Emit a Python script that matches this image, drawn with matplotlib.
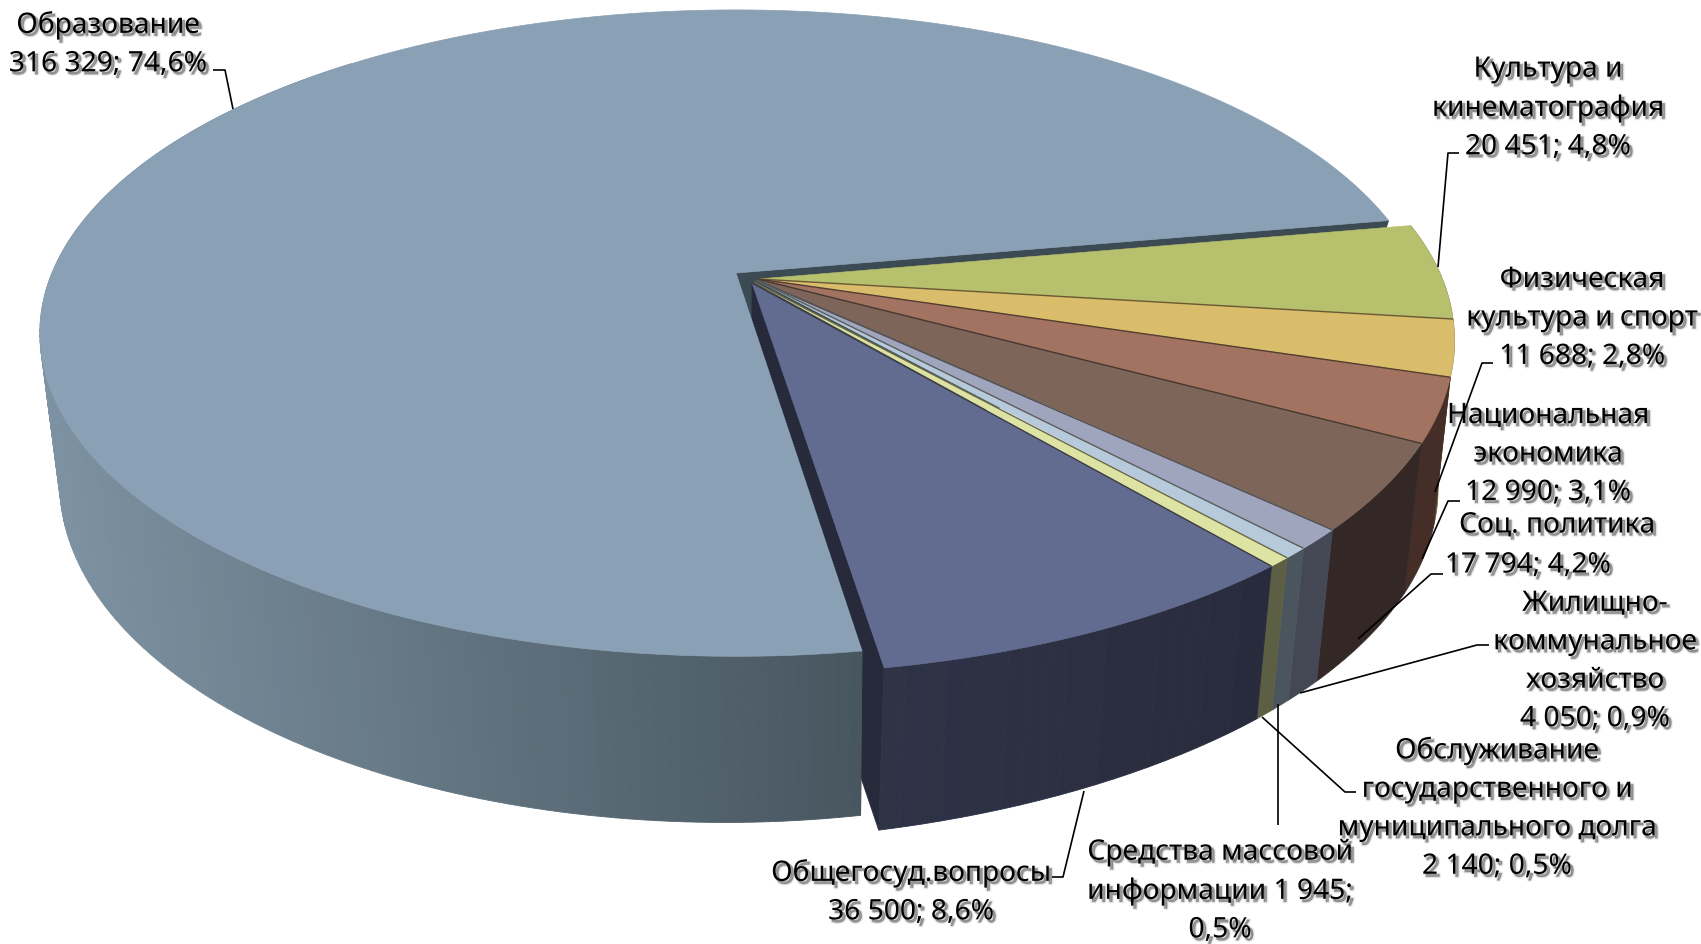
import numpy as np
import matplotlib
matplotlib.use("Agg")
import matplotlib.pyplot as plt
import matplotlib.patheffects as pe
from matplotlib.colors import to_rgb

# ---------- data ----------
categories = ["Образование", "Культура и\nкинематография", "Физическая\nкультура и спорт",
              "Национальная\nэкономика", "Соц. политика", "Жилищно-\nкоммунальное\nхозяйство",
              "Обслуживание\nгосударственного и\nмуниципального долга",
              "Средства массовой\nинформации", "Общегосуд.вопросы"]
values = [316329, 20451, 11688, 12990, 17794, 4050, 2140, 1945, 36500]
percent_labels = ["74,6%", "4,8%", "2,8%", "3,1%", "4,2%", "0,9%", "0,5%", "0,5%", "8,6%"]
value_labels = ["316 329", "20 451", "11 688", "12 990", "17 794", "4 050", "2 140", "1 945", "36 500"]

# ---------- styles ----------
top_colors = ["#8aa0b4", "#b6c06d", "#dabd6a", "#a27360", "#7d6559", "#9fa5bd", "#b7cadb", "#dde3a2", "#626b90"]
side_colors = ["#7d92a2", "#5d6236", "#6b5a30", "#442e27", "#332826", "#434854", "#4a555d", "#5d5f44", "#292d3e"]
apexes = [(0, 0), (22, 6), (22, 6), (22, 6), (21, 6), (20, 7), (20, 7), (18, 9), (16, 10)]
label_pos = [(108, 45), (1548, 109), (1582, 319), (1548, 455), (1557, 526), (1595, 662), (1497, 809), (1220, 892), (911, 893)]
split_value_pos = {4: (1528, 566)}
leaders = [[(213, 71), (225, 71), (233, 110)],
           [(1459, 154), (1448, 154), (1438, 268)],
           [(1493, 364), (1482, 364), (1435, 493)],
           [(1460, 502), (1448, 502), (1422, 560)],
           [(1443, 575), (1431, 575), (1358, 640)],
           [(1489, 646), (1477, 646), (1300, 694)],
           [(1356, 793), (1345, 793), (1262, 718)],
           [(1278, 826), (1278, 705)],
           [(1052, 878), (1063, 878), (1084, 792)]]

# projection of the tilted disc
CX, CY, K = 736.0, 274.0, 0.186
RX, RY = 684.0, 312.0
# lower rim of the main slice
MXC, MCY, MRX, MRY, MDA = 725.0, 421.0, 653.7, 327.6, 1.1
# lower rim of the other slices
RXB, RYB, CYB, SHEAR = 665.0, 307.0, 446.0, -0.030

# shift of the rim of the non-exploded slices, by rim angle
shift_angles = [-82, -51, -44, -28, -17, -7, 11]
shift_x = [22, 26, 27, 25, 23, 22, 22]
shift_y = [17, 13, 11, 8, 6, 5, 5]


def shift(a):
    a = ((np.asarray(a, float) + 180) % 360) - 180
    return np.interp(a, shift_angles, shift_x), np.interp(a, shift_angles, shift_y)


def top(a, moved=True):
    r = np.radians(a)
    w = 1 + K * np.sin(r)
    sx, sy = shift(a) if moved else (0.0, 0.0)
    return CX + sx + RX * np.cos(r) / w, CY + sy - RY * np.sin(r) / w


def bottom(a):
    r = np.radians(a)
    w = 1 + K * np.sin(r)
    sx, sy = shift(a)
    dx = RXB * np.cos(r) / w
    return CX + 4 + 6 * np.sin(r) + sx + dx, CYB + sy - RYB * np.sin(r) / w + SHEAR * dx


def bottom_main(a):
    r = np.radians(a + MDA)
    w = 1 + K * np.sin(r)
    return MXC + MRX * np.cos(r) / w, MCY - MRY * np.sin(r) / w


fig = plt.figure(figsize=(17.01, 9.45), dpi=100, facecolor="white")
ax = fig.add_axes([0, 0, 1, 1])
ax.set_xlim(0, 1701)
ax.set_ylim(945, 0)
ax.axis("off")

total = sum(values)
spans = [v / total * 360 for v in values]
edges = [10.0 + spans[0]]
for s in spans:
    edges.append(edges[-1] - s)


def quad(p, c, z, lw=0.6):
    ax.fill([q[0] for q in p], [q[1] for q in p], facecolor=c, edgecolor=c, linewidth=lw, zorder=z)


def mix(c1, c2, t):
    a, b = np.array(to_rgb(c1)), np.array(to_rgb(c2))
    return tuple(a + (b - a) * t)


main_front, main_end = edges[0], edges[1]
apex_b = (CX, CYB)

# walls at the cuts
quad([(CX, CY), top(main_end, False), bottom_main(main_end), apex_b], "#3b4a53", 1)
quad([(CX, CY), top(main_front, False), bottom_main(main_front), apex_b], "#3b4a53", 2)
n = apexes[8]
quad([(CX + n[0], CY + n[1]), top(edges[9]), bottom(edges[9]), (CX + n[0], CYB + n[1])], "#262a3b", 3)

# main side with horizontal gradient
for a0 in np.arange(130, main_front, 1.0):
    a1 = min(a0 + 1.0, main_front)
    t = np.clip((top(a0, False)[0] - 40) / (862 - 40), 0, 1)
    quad([top(a0, False), top(a1, False), bottom_main(a1), bottom_main(a0)],
         mix(side_colors[0], "#47555e", t), 4)

# main top
aa = np.linspace(main_front, main_end, 500)
xs, ys = top(aa, False)
ax.fill(np.r_[CX, xs], np.r_[CY, ys], facecolor=top_colors[0], edgecolor=top_colors[0], linewidth=0.5, zorder=5)

# other slices: sides
for i in range(1, 9):
    if i == 8:
        th = np.linspace(edges[i], edges[i + 1], int(spans[i] / 1.5) + 2)
        for a0, a1 in zip(th[:-1], th[1:]):
            c = mix("#282b3b", "#2f3347", np.clip((edges[8] - a0) / spans[8], 0, 1))
            quad([top(a0), top(a1), bottom(a1), bottom(a0)], c, 6)
    else:
        th = np.linspace(edges[i], edges[i + 1], 40)
        tx, ty = top(th)
        bx, by = bottom(th[::-1])
        ax.fill(np.r_[tx, bx], np.r_[ty, by], facecolor=side_colors[i], edgecolor=side_colors[i],
                linewidth=0.5, zorder=6)

# other slices: tops, then their dividing lines
for i in range(1, 9):
    o = apexes[i]
    aa = np.linspace(edges[i], edges[i + 1], 80)
    xs, ys = top(aa)
    ax.fill(np.r_[CX + o[0], xs], np.r_[CY + o[1], ys], facecolor=top_colors[i],
            edgecolor=top_colors[i], linewidth=0.4, zorder=7 + i * 0.01)
for i in range(2, 9):
    o = apexes[i]
    x1, y1 = top(edges[i])
    ax.plot([CX + o[0], x1], [CY + o[1], y1], color=mix(top_colors[i], "#2a2218", 0.65),
            lw=1.0, zorder=8, solid_capstyle="butt")

# labels
shadow = [pe.Stroke(offset=(2.0, -2.0), linewidth=2.6, foreground="k", alpha=0.06),
          pe.Stroke(offset=(2.0, -2.0), linewidth=1.2, foreground="k", alpha=0.12),
          pe.Stroke(offset=(2.0, -2.0), linewidth=0.3, foreground="k", alpha=0.18),
          pe.Normal()]


def put(x, y, s):
    ax.text(x, y, s, ha="center", va="center", multialignment="center", family="Noto Sans",
            fontsize=20.3, color="black", linespacing=1.43, zorder=20, path_effects=shadow)


for i, name in enumerate(categories):
    x, y = label_pos[i]
    value = f"{value_labels[i]}; {percent_labels[i]}"
    if i == 7:
        put(x, y, f"{name} {value_labels[i]};\n{percent_labels[i]}")
    elif i in split_value_pos:
        put(x, y, name)
        put(*split_value_pos[i], value)
    else:
        put(x, y, f"{name}\n{value}")
    lx, ly = zip(*leaders[i])
    ax.plot(lx, ly, color="black", lw=1.2, zorder=15, solid_capstyle="butt")

fig.savefig("out.png", dpi=100, facecolor="white")
